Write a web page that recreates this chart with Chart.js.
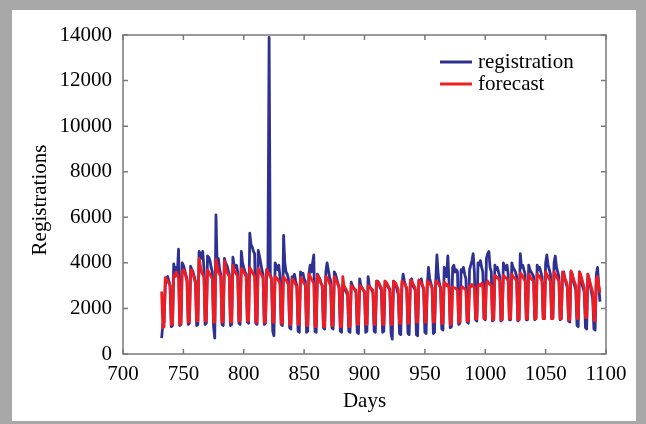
<!DOCTYPE html>
<html>
<head>
<meta charset="utf-8">
<script src="https://cdn.jsdelivr.net/npm/chart.js@4"></script>
<style>
  html, body { margin: 0; padding: 0; background: #fff; }
  #wrap { position: relative; width: 646px; height: 424px; }
</style>
</head>
<body>
<div id="wrap"><canvas id="chart" width="646" height="424"></canvas></div>
<script>
// Daily registrations vs. forecast, days 732..1095
var firstDay = 732;
var xTicks = [700, 750, 800, 850, 900, 950, 1000, 1050, 1100];
var yTicks = [0, 2000, 4000, 6000, 8000, 10000, 12000, 14000];
var seriesNames = ['registration', 'forecast'];
var seriesColors = ['#2e3192', '#ee1d23'];

// one row per week (weekend lows first)
var registration = [700,
    1300, 1400, 3000, 3300, 3400, 3200, 3000,
    1200, 1250, 3950, 3600, 3800, 3500, 4600,
    1250, 1300, 4000, 3900, 3700, 3500, 3300,
    1300, 1350, 3850, 3700, 3600, 3400, 3200,
    1250, 1300, 4500, 4400, 4200, 4500, 3800,
    1300, 1350, 4300, 4250, 4100, 3800, 3600,
    1200, 700, 6100, 3800, 4200, 3700, 3500,
    1300, 1250, 4200, 4000, 3900, 3700, 3500,
    1250, 1300, 4250, 3900, 3800, 3900, 3600,
    1350, 1300, 4500, 4000, 3800, 3600, 3500,
    1400, 1350, 5300, 4800, 4700, 4500, 4400,
    1350, 1300, 4550, 4300, 4000, 3700, 3500,
    1300, 1350, 3700, 3600, 13900, 3500, 3300,
    1000, 800, 4000, 3800, 3700, 3900, 3400,
    1300, 1250, 5200, 4000, 3600, 3500, 3300,
    1150, 1100, 3400, 3300, 3500, 3200, 3000,
    1000, 950, 3600, 3500, 3550, 3300, 3200,
    950, 1000, 3500, 3900, 3600, 4000, 4350,
    1000, 950, 3500, 3400, 3300, 3100, 3000,
    1150, 1100, 3600, 4000, 3700, 3400, 3200,
    1150, 1100, 3600, 3500, 3300, 3100, 2900,
    1000, 950, 3000, 2900, 2800, 2700, 2600,
    1000, 950, 3150, 3000, 2900, 2800, 2700,
    950, 900, 3300, 3000, 2900, 2800, 2700,
    950, 1000, 3400, 3000, 2900, 2800, 2700,
    1000, 950, 3200, 3200, 3100, 2900, 2800,
    950, 1000, 3200, 3100, 3000, 2900, 2800,
    900, 650, 3200, 3100, 3000, 2800, 2600,
    900, 850, 3000, 3500, 3200, 3000, 2800,
    900, 850, 3200, 3300, 3000, 2900, 2800,
    850, 800, 3200, 3100, 3300, 3000, 2800,
    950, 900, 3000, 3800, 3300, 3100, 2900,
    900, 950, 3200, 4350, 3500, 3100, 2900,
    1100, 1050, 3800, 3600, 3400, 4300, 3200,
    1150, 1200, 3800, 3900, 3600, 3700, 3600,
    1300, 1350, 3700, 3600, 3800, 3500, 3300,
    1400, 1350, 3700, 3900, 4100, 4400, 3600,
    1500, 1450, 4000, 3900, 4100, 3800, 3600,
    1550, 1500, 4200, 4400, 4500, 3800, 3600,
    1450, 1500, 3900, 3700, 3800, 3600, 3400,
    1450, 1500, 4000, 3800, 3700, 3900, 3500,
    1500, 1500, 4000, 3800, 3700, 3600, 3400,
    1450, 1500, 4400, 3800, 3900, 3700, 3500,
    1500, 1500, 3900, 3700, 3600, 3500, 3400,
    1500, 1550, 3900, 3700, 3800, 3600, 3400,
    1550, 1550, 4000, 4350, 3900, 3700, 3500,
    1550, 1600, 4000, 4300, 3800, 3600, 3400,
    1500, 1550, 3500, 3600, 3300, 3100, 2900,
    1450, 1400, 3600, 3500, 3200, 3000, 2800,
    1250, 1200, 3600, 3400, 3100, 2900, 2700,
    1150, 1100, 3500, 3300, 3000, 2700, 2400,
    1100, 1050, 3500, 3800, 3000, 2300];

var forecast = [2740,
    1150, 1200, 3350, 3300, 3200, 3100, 3000,
    1300, 1300, 3450, 3400, 3600, 3500, 3300,
    1300, 1350, 3600, 3700, 3600, 3400, 3200,
    1400, 1400, 3700, 3650, 3500, 3300, 3100,
    1450, 1450, 4200, 3900, 3600, 3500, 3400,
    1450, 1450, 3700, 3600, 3500, 3400, 3300,
    1400, 1400, 4150, 3900, 3600, 3500, 3400,
    1400, 1400, 4100, 3800, 3600, 3500, 3400,
    1400, 1400, 3900, 3700, 3600, 3500, 3400,
    1450, 1450, 3750, 3700, 3600, 3500, 3400,
    1450, 1450, 3800, 3700, 3600, 3500, 3400,
    1400, 1400, 3750, 3650, 3550, 3450, 3350,
    1400, 1400, 3700, 3600, 3500, 3400, 3300,
    1400, 1400, 3400, 3350, 3300, 3200, 3100,
    1350, 1350, 3400, 3300, 3250, 3150, 3050,
    1300, 1300, 3300, 3250, 3150, 3050, 2950,
    1300, 1300, 3350, 3300, 3200, 3100, 3000,
    1250, 1250, 3500, 3400, 3300, 3200, 3100,
    1200, 1200, 3450, 3350, 3250, 3100, 3000,
    1200, 1200, 3400, 3350, 3250, 3100, 3000,
    1250, 1250, 3400, 3300, 3200, 3050, 2900,
    1200, 1200, 3400, 3000, 2900, 2800, 2700,
    1200, 1200, 3000, 2950, 2900, 2850, 2800,
    1300, 1300, 3000, 2950, 2900, 2800, 2750,
    1300, 1300, 3000, 2950, 2900, 2850, 2800,
    1300, 1300, 3200, 3150, 3100, 3000, 2900,
    1300, 1300, 3200, 3150, 3050, 2950, 2850,
    1300, 1300, 3200, 3150, 3100, 2950, 2800,
    1350, 1350, 3200, 3150, 3100, 3000, 2900,
    1350, 1350, 3250, 3200, 3100, 3000, 2900,
    1400, 1400, 3250, 3200, 3100, 3000, 2900,
    1400, 1400, 3200, 3150, 3100, 3000, 2900,
    1400, 1400, 3200, 3150, 3100, 3000, 2900,
    1350, 1350, 3150, 3100, 3000, 3050, 2900,
    1300, 1300, 2950, 2900, 2900, 2850, 2800,
    1400, 1400, 2900, 2950, 2900, 2850, 2800,
    1450, 1450, 3000, 2950, 3050, 3000, 2900,
    1550, 1550, 3000, 3050, 3000, 3100, 3000,
    1550, 1550, 3100, 3200, 3100, 3050, 3000,
    1500, 1500, 3450, 3400, 3350, 3300, 3200,
    1500, 1500, 3450, 3400, 3350, 3300, 3200,
    1550, 1550, 3500, 3400, 3350, 3300, 3200,
    1500, 1500, 3550, 3500, 3400, 3300, 3200,
    1550, 1550, 3500, 3400, 3300, 3250, 3200,
    1550, 1550, 3500, 3450, 3400, 3300, 3200,
    1550, 1550, 3600, 3500, 3400, 3300, 3200,
    1550, 1550, 3600, 3500, 3400, 3300, 3200,
    1550, 1550, 3600, 3500, 3300, 3200, 3000,
    1500, 1500, 3650, 3500, 3300, 3150, 3000,
    1550, 1550, 3600, 3500, 3300, 3100, 2900,
    1600, 1600, 3500, 3300, 3100, 2900, 2700,
    1500, 1450, 3300, 3400, 3000, 2700];

var FONT = '"Liberation Serif", "Times New Roman", serif';

function toPoints(values) {
    return values.map(function (v, i) { return { x: firstDay + i, y: v }; });
}

// page frame, plot box, inward ticks, axis titles and legend
var decorations = {
    id: 'decorations',
    beforeDraw: function (chart) {
        var ctx = chart.ctx;
        ctx.save();
        ctx.fillStyle = '#a8a8a8';
        ctx.fillRect(0, 0, chart.width, chart.height);
        ctx.fillStyle = '#ffffff';
        ctx.fillRect(12, 10, chart.width - 22, chart.height - 13);
        ctx.restore();
    },
    afterDraw: function (chart) {
        var ctx = chart.ctx;
        var a = chart.chartArea;
        var xs = chart.scales.x, ys = chart.scales.y;
        var t = 5;
        ctx.save();
        ctx.strokeStyle = '#7a7a7a';
        ctx.lineWidth = 1.5;
        ctx.strokeRect(a.left, a.top, a.right - a.left, a.bottom - a.top);
        ctx.beginPath();
        xTicks.forEach(function (v) {
            var px = xs.getPixelForValue(v);
            ctx.moveTo(px, a.bottom); ctx.lineTo(px, a.bottom - t);
            ctx.moveTo(px, a.top); ctx.lineTo(px, a.top + t);
        });
        yTicks.forEach(function (v) {
            var py = ys.getPixelForValue(v);
            ctx.moveTo(a.left, py); ctx.lineTo(a.left + t, py);
            ctx.moveTo(a.right, py); ctx.lineTo(a.right - t, py);
        });
        ctx.stroke();

        // axis titles
        ctx.fillStyle = '#000';
        ctx.font = '21px ' + FONT;
        ctx.textAlign = 'center';
        ctx.textBaseline = 'alphabetic';
        ctx.fillText('Days', (a.left + a.right) / 2, 407);
        ctx.save();
        ctx.translate(46, 200);
        ctx.rotate(-Math.PI / 2);
        ctx.fillText('Registrations', 0, 0);
        ctx.restore();

        // legend
        ctx.textAlign = 'left';
        ctx.textBaseline = 'middle';
        chart.data.datasets.forEach(function (ds, i) {
            var y = 62 + i * 22;
            ctx.strokeStyle = ds.borderColor;
            ctx.lineWidth = 3;
            ctx.beginPath();
            ctx.moveTo(440, y); ctx.lineTo(472, y);
            ctx.stroke();
            ctx.fillStyle = '#000';
            ctx.fillText(ds.label, 478, y);
        });
        ctx.restore();
    }
};

new Chart(document.getElementById('chart'), {
    type: 'line',
    data: {
        datasets: [
            { label: seriesNames[0], data: toPoints(registration), borderColor: seriesColors[0], order: 2 },
            { label: seriesNames[1], data: toPoints(forecast), borderColor: seriesColors[1], order: 1 }
        ]
    },
    options: {
        responsive: false,
        animation: false,
        devicePixelRatio: 1,
        layout: { padding: { top: 35, right: 40, bottom: 0, left: 0 } },
        elements: {
            point: { radius: 0 },
            line: { borderWidth: 2.8, tension: 0, borderJoinStyle: 'round' }
        },
        plugins: { legend: { display: false }, tooltip: { enabled: false } },
        scales: {
            x: {
                type: 'linear', min: 700, max: 1100,
                afterFit: function (s) { s.height = 70; },
                afterBuildTicks: function (s) { s.ticks = xTicks.map(function (v) { return { value: v }; }); },
                grid: { display: false, drawTicks: false },
                border: { display: false },
                ticks: {
                    padding: 8, color: '#000', maxRotation: 0,
                    font: { family: FONT, size: 21 },
                    callback: function (v) { return String(v); }
                }
            },
            y: {
                min: 0, max: 14000,
                afterFit: function (s) { s.width = 123; },
                afterBuildTicks: function (s) { s.ticks = yTicks.map(function (v) { return { value: v }; }); },
                grid: { display: false, drawTicks: false },
                border: { display: false },
                ticks: {
                    padding: 11, color: '#000',
                    font: { family: FONT, size: 21 },
                    callback: function (v) { return String(v); }
                }
            }
        }
    },
    plugins: [decorations]
});
</script>
</body>
</html>
